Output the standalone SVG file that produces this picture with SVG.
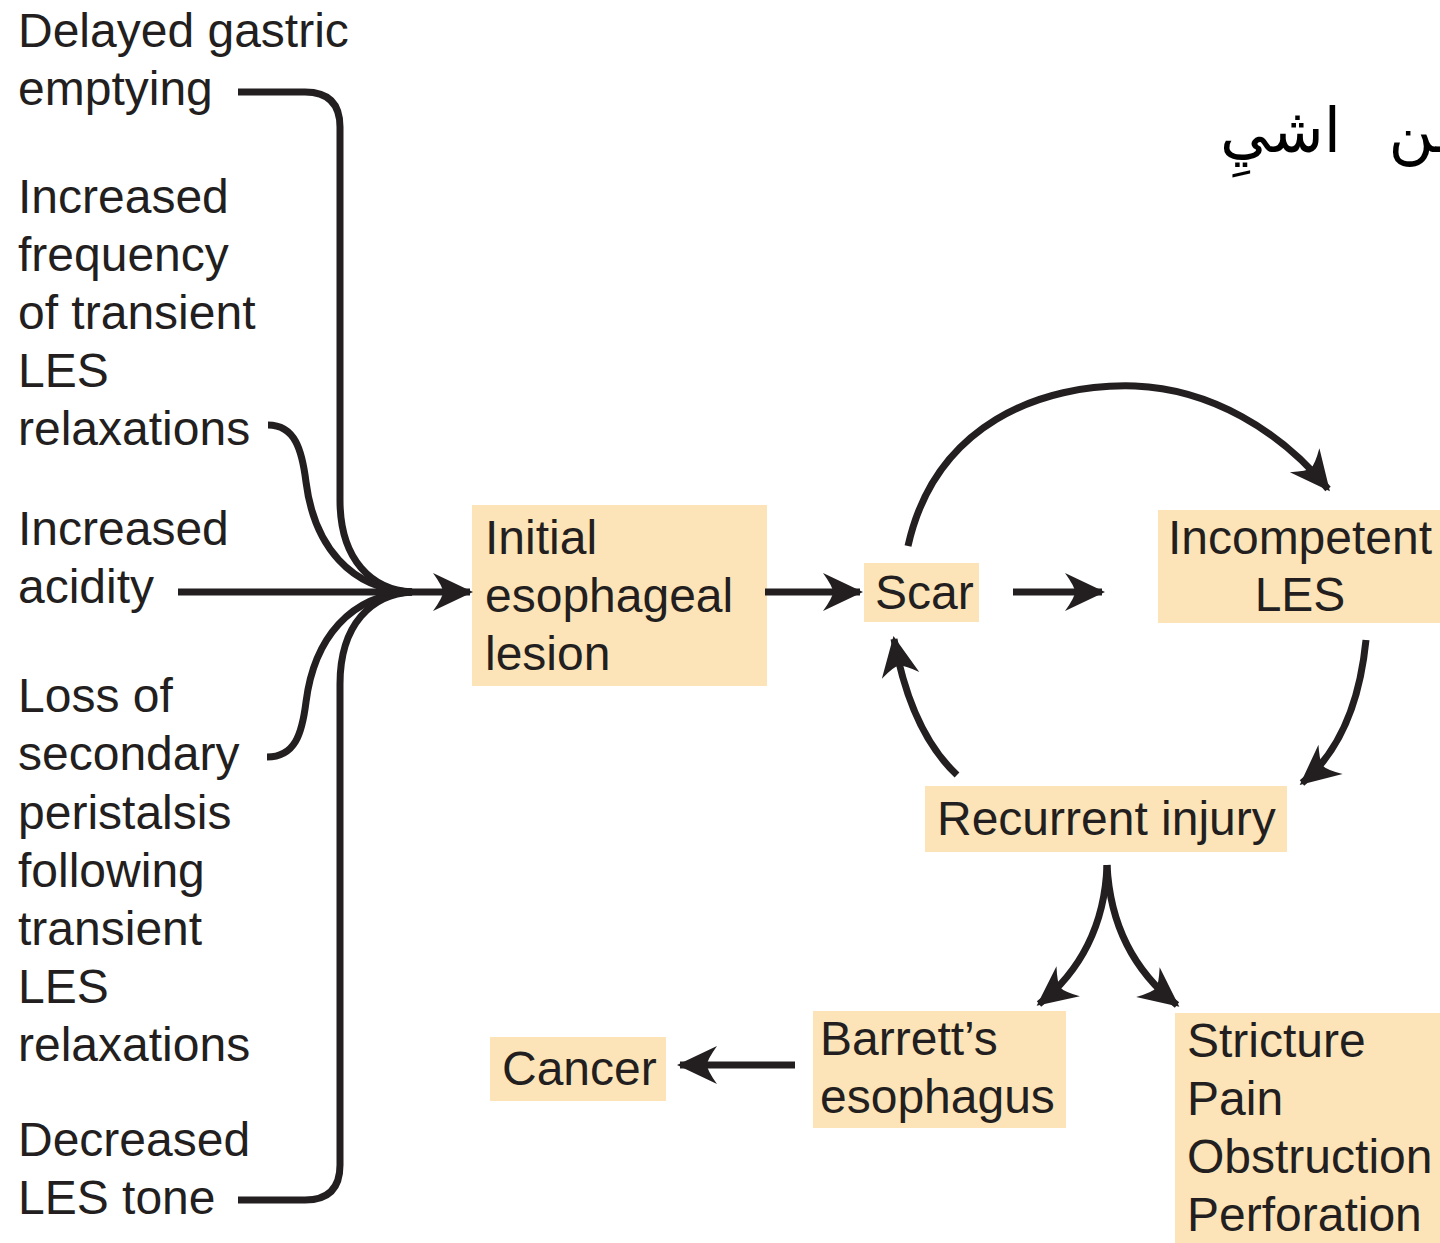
<svg xmlns="http://www.w3.org/2000/svg" width="1440" height="1243" viewBox="0 0 1440 1243">
<defs>
<style>
text{font-family:"Liberation Sans",Arial,sans-serif;font-size:48px;fill:#231f20}
.box{fill:#fce4b8}
.ln{fill:none;stroke:#231f20;stroke-width:7;stroke-linecap:butt}
.arr{marker-end:url(#ah)}
.ar{font-family:"DejaVu Sans",sans-serif;font-size:62px;fill:#000;word-spacing:28px}
</style>
<marker id="ah" markerUnits="userSpaceOnUse" viewBox="-40 -22 44 44" refX="0" refY="0" markerWidth="44" markerHeight="44" orient="auto" overflow="visible">
<path d="M3,0 L-37,-19 Q-27,-5 -27,0 Q-27,5 -37,19 Z" fill="#231f20"/>
</marker>
</defs>
<rect width="1440" height="1243" fill="#fff"/>

<g id="causes">
<text x="18" y="47">Delayed gastric</text>
<text x="18" y="105">emptying</text>
<text x="18" y="213">Increased</text>
<text x="18" y="271">frequency</text>
<text x="18" y="329">of transient</text>
<text x="18" y="387">LES</text>
<text x="18" y="445">relaxations</text>
<text x="18" y="545">Increased</text>
<text x="18" y="603">acidity</text>
<text x="18" y="712">Loss of</text>
<text x="18" y="770">secondary</text>
<text x="18" y="829">peristalsis</text>
<text x="18" y="887">following</text>
<text x="18" y="945">transient</text>
<text x="18" y="1003">LES</text>
<text x="18" y="1061">relaxations</text>
<text x="18" y="1156">Decreased</text>
<text x="18" y="1214">LES tone</text>
</g>

<g id="arabic">
<text class="ar" x="1220" y="152">ـن اشيِ</text>
</g>

<g id="lesion">
<rect class="box" x="472" y="505" width="295" height="181"/>
<text x="485" y="554">Initial</text>
<text x="485" y="612">esophageal</text>
<text x="485" y="670">lesion</text>
</g>

<g id="scar">
<rect class="box" x="864" y="563" width="115" height="59"/>
<text x="875" y="609">Scar</text>
</g>

<g id="incompetent">
<rect class="box" x="1158" y="510" width="282" height="113"/>
<text x="1300" y="554" text-anchor="middle">Incompetent</text>
<text x="1300" y="611" text-anchor="middle">LES</text>
</g>

<g id="recurrent">
<rect class="box" x="925" y="786" width="362" height="66"/>
<text x="937" y="835">Recurrent injury</text>
</g>

<g id="cancer">
<rect class="box" x="490" y="1037" width="176" height="64"/>
<text x="502" y="1085">Cancer</text>
</g>

<g id="barretts">
<rect class="box" x="813" y="1011" width="253" height="117"/>
<text x="820" y="1055">Barrett’s</text>
<text x="820" y="1113">esophagus</text>
</g>

<g id="complications">
<rect class="box" x="1175" y="1013" width="265" height="230"/>
<text x="1187" y="1057">Stricture</text>
<text x="1187" y="1115">Pain</text>
<text x="1187" y="1173">Obstruction</text>
<text x="1187" y="1231">Perforation</text>
</g>

<g id="connectors">
<path class="ln" d="M238,92 L305,92 Q340,92 340,127 L340,500 C340,560 372,590 412,592"/>
<path class="ln" d="M268,425 C295,425 302,450 306,482 C314,545 350,590 412,592"/>
<path class="ln" d="M267,757 C295,757 302,734 306,702 C314,639 350,594 412,592"/>
<path class="ln" d="M238,1200 L305,1200 Q340,1200 340,1165 L340,684 C340,624 372,594 412,592"/>
<path class="ln arr" d="M178,592 L470,592"/>
<path class="ln arr" d="M765,592 L860,592"/>
<path class="ln arr" d="M1013,592 L1102,592"/>
<path class="ln arr" d="M908,546 C935,425 1040,383 1135,386 C1210,389 1280,430 1328,489"/>
<path class="ln arr" d="M1366,640 C1360,700 1342,750 1302,783"/>
<path class="ln arr" d="M957,775 C925,745 905,700 894,639"/>
<path class="ln arr" d="M1107,865 C1105,925 1080,972 1039,1004"/>
<path class="ln arr" d="M1107,865 C1110,925 1135,972 1177,1005"/>
<path class="ln arr" d="M795,1065 L680,1065"/>
</g>
</svg>
